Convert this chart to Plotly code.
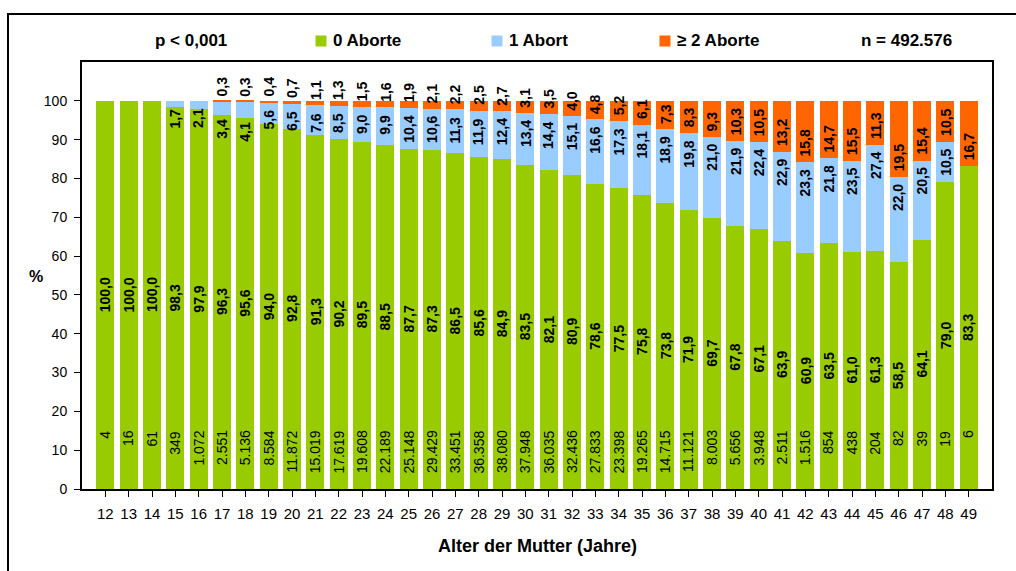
import plotly.graph_objects as go

# ---------------- data ----------------
ages = list(range(12, 50))
pct_0 = [100.0, 100.0, 100.0, 98.3, 97.9, 96.3, 95.6, 94.0, 92.8, 91.3, 90.2, 89.5, 88.5, 87.7,
         87.3, 86.5, 85.6, 84.9, 83.5, 82.1, 80.9, 78.6, 77.5, 75.8, 73.8, 71.9, 69.7, 67.8,
         67.1, 63.9, 60.9, 63.5, 61.0, 61.3, 58.5, 64.1, 79.0, 83.3]
pct_1 = [0, 0, 0, 1.7, 2.1, 3.4, 4.1, 5.6, 6.5, 7.6, 8.5, 9.0, 9.9, 10.4,
         10.6, 11.3, 11.9, 12.4, 13.4, 14.4, 15.1, 16.6, 17.3, 18.1, 18.9, 19.8, 21.0, 21.9,
         22.4, 22.9, 23.3, 21.8, 23.5, 27.4, 22.0, 20.5, 10.5, 0]
pct_2 = [0, 0, 0, 0, 0, 0.3, 0.3, 0.4, 0.7, 1.1, 1.3, 1.5, 1.6, 1.9,
         2.1, 2.2, 2.5, 2.7, 3.1, 3.5, 4.0, 4.8, 5.2, 6.1, 7.3, 8.3, 9.3, 10.3,
         10.5, 13.2, 15.8, 14.7, 15.5, 11.3, 19.5, 15.4, 10.5, 16.7]
counts = [4, 16, 61, 349, 1072, 2551, 5136, 8584, 11872, 15019, 17619, 19608, 22189, 25148,
          29429, 33451, 36358, 38080, 37948, 36035, 32436, 27833, 23398, 19265, 14715, 11121,
          8003, 5656, 3948, 2511, 1516, 854, 438, 204, 82, 39, 19, 6]
series_names = ["0 Aborte", "1 Abort", "≥ 2 Aborte"]
p_text = "p < 0,001"
n_total = 492576
x_title = "Alter der Mutter (Jahre)"
y_title = "%"
y_ticks = list(range(0, 101, 10))

# ---------------- style ----------------
COLORS = ["#99CC00", "#99CCFF", "#FF6600"]
FONT = "Liberation Sans, Arial, sans-serif"
W, H = 1016, 571
ML, MR, MT, MB = 82, 24, 62, 82
PW, PH = W - ML - MR, H - MT - MB


def px_x(px):
    return (px - ML) / PW


def px_y(py):
    return (H - MB - py) / PH


def de(v):
    return f"{v:.1f}".replace(".", ",")


def de_int(v):
    return f"{v:,}".replace(",", ".")


fig = go.Figure()
for name, vals, col in zip(series_names, [pct_0, pct_1, pct_2], COLORS):
    fig.add_trace(go.Bar(x=ages, y=vals, name=name, marker=dict(color=col, line=dict(width=0)),
                         width=0.78, showlegend=False, hoverinfo="x+y+name"))

ann = []
for a, g, b, o, n in zip(ages, pct_0, pct_1, pct_2, counts):
    ann.append(dict(x=a, y=g / 2, text=f"<b>{de(g)}</b>", textangle=-90, showarrow=False,
                    font=dict(size=14, color="black", family=FONT), yanchor="middle"))
    ann.append(dict(x=a, y=15.6, text=de_int(n), textangle=-90, showarrow=False,
                    font=dict(size=14, color="black", family=FONT), yanchor="top"))
    if b > 0:
        if b < 5 and o > 0:
            yb, anc = g - 0.4, "top"
        else:
            yb, anc = g + b - 1.4, "top"
        ann.append(dict(x=a, y=yb, text=f"<b>{de(b)}</b>", textangle=-90, showarrow=False,
                        font=dict(size=14, color="black", family=FONT), yanchor=anc))
    if o > 0:
        ann.append(dict(x=a, y=g + b + 0.9, text=f"<b>{de(o)}</b>", textangle=-90, showarrow=False,
                        font=dict(size=14, color="black", family=FONT), yanchor="bottom"))

# header row (p-value, legend, n)
hdr_y = px_y(41)
ann.append(dict(xref="paper", yref="paper", x=px_x(191), y=hdr_y, text=f"<b>{p_text}</b>",
                showarrow=False, font=dict(size=17, color="black", family=FONT),
                xanchor="center", yanchor="middle"))
ann.append(dict(xref="paper", yref="paper", x=px_x(954), y=hdr_y, text=f"<b>n = {de_int(n_total)}</b>",
                showarrow=False, font=dict(size=17, color="black", family=FONT),
                xanchor="right", yanchor="middle"))
shapes = []
for name, col, mx in zip(series_names, COLORS, [321, 497, 665]):
    shapes.append(dict(type="rect", xref="paper", yref="paper",
                       x0=px_x(mx - 5.5), x1=px_x(mx + 5.5), y0=px_y(46.5), y1=px_y(35.5),
                       fillcolor=col, line=dict(width=0)))
    ann.append(dict(xref="paper", yref="paper", x=px_x(mx + 10), y=hdr_y, text=f"<b>{name}</b>",
                    showarrow=False, font=dict(size=17, color="black", family=FONT),
                    xanchor="left", yanchor="middle"))

# axis titles
ann.append(dict(xref="paper", yref="paper", x=px_x(537), y=px_y(546), text=f"<b>{x_title}</b>",
                showarrow=False, font=dict(size=18, color="black", family=FONT),
                xanchor="center", yanchor="middle"))
ann.append(dict(xref="paper", yref="paper", x=px_x(36), y=px_y(276), text=f"<b>{y_title}</b>",
                showarrow=False, font=dict(size=16, color="black", family=FONT),
                xanchor="center", yanchor="middle"))

# outer frame
shapes.append(dict(type="rect", xref="paper", yref="paper", x0=px_x(8), x1=px_x(1030),
                   y0=px_y(590), y1=px_y(14), line=dict(color="black", width=2),
                   fillcolor="rgba(0,0,0,0)", layer="above"))

fig.update_layout(
    width=W, height=H, autosize=False,
    margin=dict(l=ML, r=MR, t=MT, b=MB, pad=0),
    barmode="stack",
    plot_bgcolor="white", paper_bgcolor="white",
    font=dict(family=FONT, color="black", size=14),
    annotations=ann, shapes=shapes,
    xaxis=dict(range=[11, 50], tickmode="array", tickvals=ages, ticktext=[str(a) for a in ages],
               showline=True, linecolor="black", linewidth=2, mirror=True,
               ticks="outside", ticklen=6, tickwidth=1, tickcolor="black",
               tickfont=dict(size=15, family=FONT, color="black"), showgrid=False, zeroline=False,
               ticklabelstandoff=4),
    yaxis=dict(range=[0, 110], tickmode="array", tickvals=y_ticks,
               showline=True, linecolor="black", linewidth=2, mirror=True,
               ticks="outside", ticklen=6, tickwidth=1, tickcolor="black",
               tickfont=dict(size=14, family=FONT, color="black"), showgrid=False, zeroline=False,
               ticklabelstandoff=4),
    bargap=0.22,
)

fig.write_html("out.html", config={"displayModeBar": False},
               post_script="document.body.style.margin='0';document.body.style.overflow='hidden';")
